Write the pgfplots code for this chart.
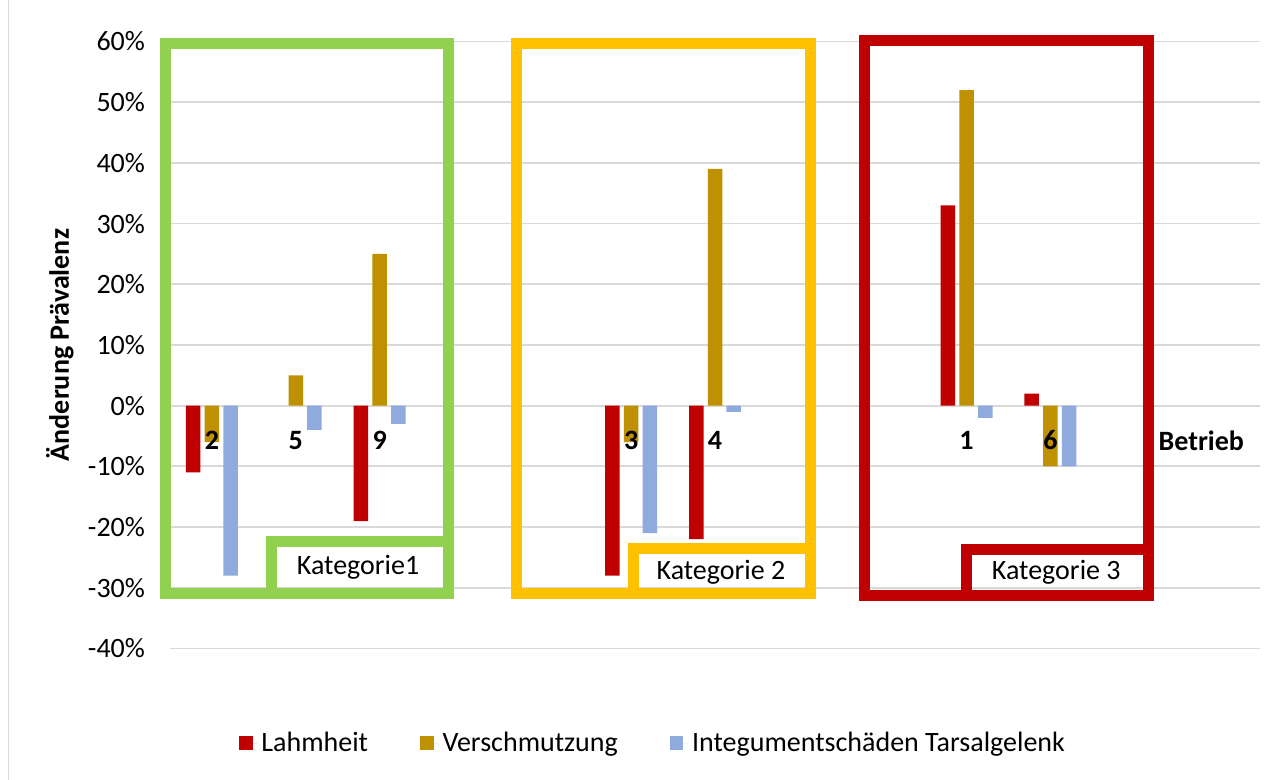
\documentclass[border=0pt]{standalone}
\usepackage{pgfplots}
\pgfplotsset{compat=1.18}
\usepackage{fontspec}
\setmainfont{Carlito}
\usetikzlibrary{calc}
\definecolor{cL}{HTML}{C00000}
\definecolor{cV}{HTML}{BF9000}
\definecolor{cI}{HTML}{8FAADC}
\definecolor{kGreen}{HTML}{92D050}
\definecolor{kYellow}{HTML}{FFC000}
\definecolor{kRed}{HTML}{C00000}
\definecolor{gridc}{HTML}{D9D9D9}
\newcommand\fs{\fontsize{14pt}{17pt}\selectfont}
\begin{document}
\begin{tikzpicture}[font=\fs]
\begin{axis}[
  set layers=standard,
  scale only axis,
  width=545pt, height=303.5pt,
  clip=false,
  ybar=2.1pt,
  bar width=7.25pt,
  xmin=-0.5, xmax=12.5,
  ymin=-40, ymax=60,
  xtick={0,1,2,5,6,9,10,11.8},
  xticklabels={2,5,9,3,4,1,6,Betrieb},
  x tick label style={/pgfplots/on layer=axis foreground, font=\fs\bfseries, anchor=center, yshift=108.25pt},
  ytick={-40,-30,...,60},
  yticklabel={\pgfmathprintnumber{\tick}\%},
  /pgf/number format/assume math mode=true,
  y tick label style={anchor=east, xshift=-9pt},
  ymajorgrids,
  grid style={color=gridc, line width=0.9pt},
  axis line style={draw=none},
  tick style={draw=none},
  every axis y label/.style={at={(axis description cs:-0.101,0.5)}, rotate=90, anchor=center, font=\fs\bfseries},
  ylabel={Änderung Prävalenz},
  legend style={at={(axis description cs:0.444,-0.1557)}, anchor=center, draw=none, fill=none,
    legend columns=-1, font=\fs,
    /tikz/every even column/.append style={column sep=24pt}},
  legend image code/.code={\fill[#1] (0pt,-3.4pt) rectangle (6.8pt,3.4pt); \path (0pt,0pt) -- (9.2pt,0pt);},
]
\addplot[fill=cL, draw=none] coordinates {(0,-11) (2,-19) (5,-28) (6,-22) (9,33) (10,2)};
\addplot[fill=cV, draw=none] coordinates {(0,-6) (1,5) (2,25) (5,-6) (6,39) (9,52) (10,-10)};
\addplot[fill=cI, draw=none] coordinates {(0,-28) (1,-4) (2,-3) (5,-21) (6,-1) (9,-2) (10,-10)};
\legend{Lahmheit, Verschmutzung, Integumentschäden Tarsalgelenk}
% category frames
\draw[kGreen, line width=5.5pt] (-0.555,59.7) rectangle (2.816,-31.0);
\draw[kGreen, line width=5.5pt] (0.707,-22.3) rectangle (2.816,-31.0);
\node[anchor=center] at (1.743,-26.7) {Kategorie1};
\draw[kYellow, line width=5.5pt] (3.636,59.7) rectangle (7.143,-31.0);
\draw[kYellow, line width=5.5pt] (5.033,-23.6) rectangle (7.143,-31.0);
\node[anchor=center] at (6.071,-27.4) {Kategorie 2};
\draw[kRed, line width=5.5pt] (7.783,60.1) rectangle (11.170,-31.3);
\draw[kRed, line width=5.5pt] (8.997,-23.7) rectangle (11.170,-31.3);
\node[anchor=center] at (10.07,-27.4) {Kategorie 3};
\end{axis}
\pgfresetboundingbox
\path[use as bounding box] ($(current axis.south west)+(-85pt,-65.75pt)$) rectangle ($(current axis.north east)+(8.5pt,20.75pt)$);
\draw[gridc, line width=0.8pt] ($(current axis.south west)+(-80.75pt,-65.75pt)$) -- ($(current axis.south west)+(-80.75pt,324.25pt)$);
\end{tikzpicture}
\end{document}
